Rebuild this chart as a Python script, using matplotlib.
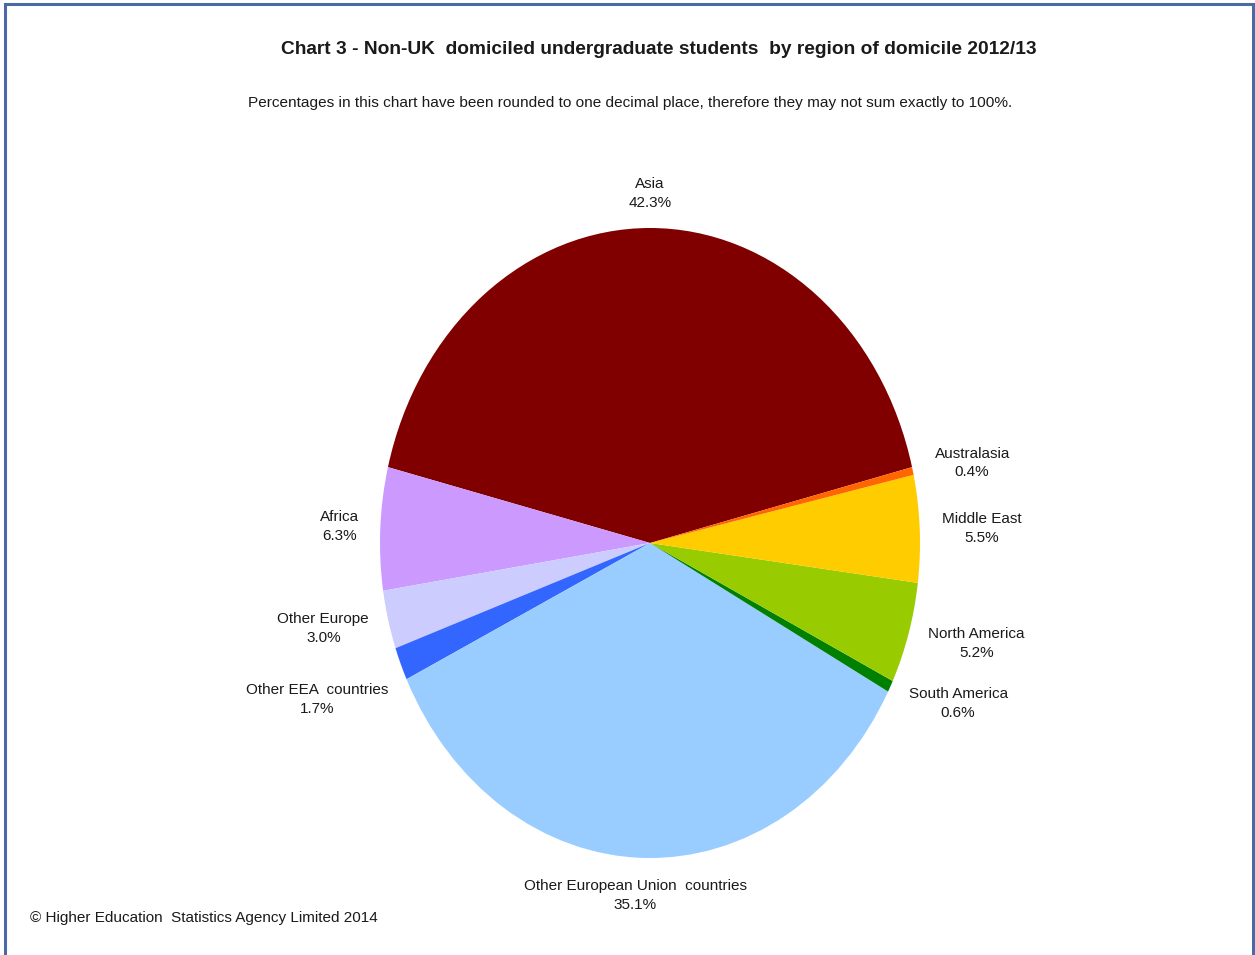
import numpy as np
import matplotlib
matplotlib.use("Agg")
import matplotlib.pyplot as plt
from matplotlib.patches import Rectangle

plt.rcParams['font.family'] = ['Liberation Sans Narrow', 'Liberation Sans', 'DejaVu Sans']

# Regions of domicile, in drawing order (counter-clockwise from Asia)
regions = ["Asia", "Africa", "Other Europe", "Other EEA  countries",
           "Other European Union  countries", "South America",
           "North America", "Middle East", "Australasia"]
shares = [42.3, 6.3, 3.0, 1.7, 35.1, 0.6, 5.2, 5.5, 0.4]
colors = ["#800000", "#CC99FF", "#CCCCFF", "#3366FF", "#99CCFF",
          "#008000", "#99CC00", "#FFCC00", "#FF6600"]

# Label placement: distance from centre (pie radii) and angular nudge (deg)
label_dist = [1.11, 1.15, 1.24, 1.33, 1.12, 1.25, 1.25, 1.23, 1.22]
label_nudge = [0, 0, -1.5, -0.7, -1.5, 3.0, 1.8, -0.5, -1.2]

W, H = 1255, 955
fig = plt.figure(figsize=(W / 100, H / 100), dpi=100)
fig.patch.set_facecolor("white")

# Outer frame
fig.add_artist(Rectangle((5 / W, -0.01), (1253 - 5) / W, (H - 4) / H + 0.01,
                         transform=fig.transFigure, fill=False,
                         edgecolor="#4A6AA5", linewidth=2.2))

# Pie drawn into an axes that is taller than it is wide (elliptical pie)
cx, cy, rx, ry = 650, 543, 270, 315
ax = fig.add_axes([(cx - rx) / W, (H - cy - ry) / H, 2 * rx / W, 2 * ry / H])
start = 90 - shares[0] / sum(shares) * 360 / 2
wedges, _ = ax.pie(shares, colors=colors, startangle=start, counterclock=True,
                   wedgeprops=dict(linewidth=0))
ax.set_aspect("auto")
ax.set_xlim(-1, 1)
ax.set_ylim(-1, 1)
ax.axis("off")

for w, name, val, d, nudge in zip(wedges, regions, shares, label_dist, label_nudge):
    mid = np.deg2rad((w.theta1 + w.theta2) / 2 + nudge)
    ax.text(d * np.cos(mid), d * np.sin(mid), f"{name}\n{val:.1f}%",
            ha="center", va="center", fontsize=11, color="#1a1a1a",
            linespacing=1.45, clip_on=False)

fig.text(659 / W, 1 - 50 / H,
         "Chart 3 - Non-UK  domiciled undergraduate students  by region of domicile 2012/13",
         ha="center", va="center", fontsize=13.8, fontweight="bold", color="#1a1a1a")
fig.text(630 / W, 1 - 103 / H,
         "Percentages in this chart have been rounded to one decimal place, therefore they may not sum exactly to 100%.",
         ha="center", va="center", fontsize=11.1, color="#1a1a1a")
fig.text(30 / W, 1 - 918 / H,
         "\u00a9 Higher Education  Statistics Agency Limited 2014",
         ha="left", va="center", fontsize=11, color="#1a1a1a")

fig.savefig("out.png", dpi=100, facecolor="white")
